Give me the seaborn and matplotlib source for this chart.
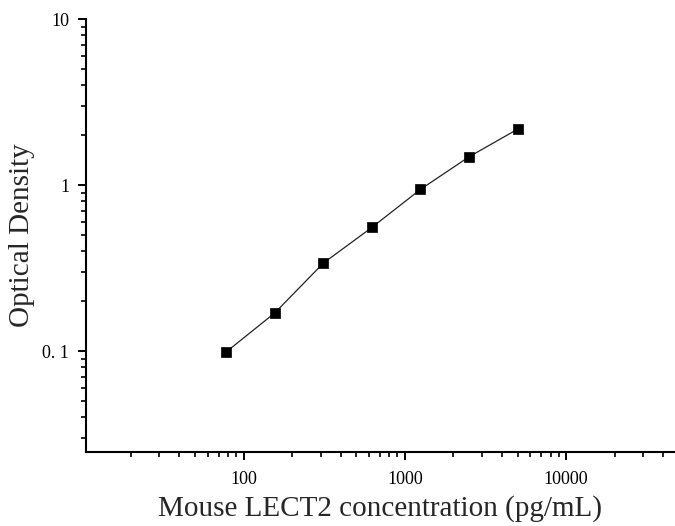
import numpy as np
import pandas as pd
import seaborn as sns
from matplotlib import pyplot as plt
from matplotlib.ticker import LogLocator, FixedLocator, FixedFormatter, NullFormatter

sns.set_style('ticks')
plt.rcParams['font.family'] = ['Liberation Serif', 'DejaVu Serif']

# standard curve
concentracao = [78.125, 156.25, 312.5, 625, 1250, 2500, 5000]
densidade = [0.099, 0.170, 0.339, 0.556, 0.942, 1.48, 2.17]

y_ticks = [0.1, 1, 10]
y_tick_labels = ['0. 1', '1', '10']
x_ticks = [100, 1000, 10000]
x_tick_labels = ['100', '1000', '10000']

df = pd.DataFrame({'conc': concentracao, 'od': densidade})

fig = plt.figure(figsize=(6.75, 5.26), dpi=100)
ax = fig.add_axes([85.7 / 675, 1 - 452 / 526, 1 - 85.7 / 675, (452 - 19) / 526])

sns.lineplot(data=df, x='conc', y='od', ax=ax, color='#222222', linewidth=0.9,
             marker='s', markersize=7, markerfacecolor='black',
             markeredgecolor='black', markeredgewidth=0.5)

ax.set_xscale('log')
ax.set_yscale('log')
ax.set_xlim(10.5, 47300)
ax.set_ylim(0.0247, 10)

ax.xaxis.set_major_locator(FixedLocator(x_ticks))
ax.xaxis.set_major_formatter(FixedFormatter(x_tick_labels))
ax.xaxis.set_minor_locator(LogLocator(base=10, subs=np.arange(2, 10)))
ax.xaxis.set_minor_formatter(NullFormatter())
ax.yaxis.set_major_locator(FixedLocator(y_ticks))
ax.yaxis.set_major_formatter(FixedFormatter(y_tick_labels))
ax.yaxis.set_minor_locator(LogLocator(base=10, subs=np.arange(2, 10)))
ax.yaxis.set_minor_formatter(NullFormatter())

for s in ['top', 'right']:
    ax.spines[s].set_visible(False)
for s in ['left', 'bottom']:
    ax.spines[s].set_linewidth(1.5)
    ax.spines[s].set_color('black')

ax.tick_params(which='major', direction='out', length=6, width=1.4, labelsize=13, colors='black')
ax.tick_params(which='minor', direction='out', length=3.3, width=1.2, colors='black')
ax.tick_params(axis='x', which='major', pad=8)
ax.tick_params(axis='y', which='major', pad=6)

ax.set_xlabel('Mouse LECT2 concentration (pg/mL)', fontsize=21, labelpad=5)
ax.set_ylabel('Optical Density', fontsize=21, labelpad=5)

fig.savefig('out.png', dpi=100)
